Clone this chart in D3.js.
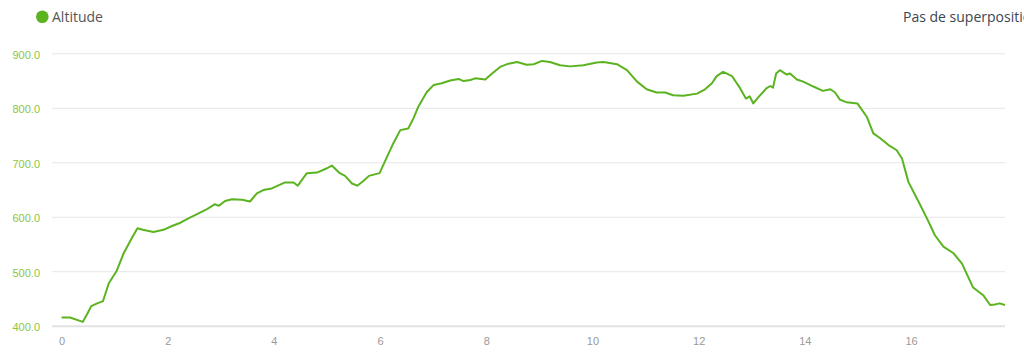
<!DOCTYPE html>
<html>
<head>
<meta charset="utf-8">
<script src="https://cdn.jsdelivr.net/npm/d3@7"></script>
<style>
  html, body { margin: 0; padding: 0; background: #fff; overflow: hidden; }
  svg { display: block; }
</style>
</head>
<body>
<svg id="chart" width="1024" height="352"></svg>
<script>
// Distance (km)
const distance = [0, 0.16, 0.40, 0.48, 0.56, 0.67, 0.78, 0.89, 1.04, 1.17, 1.33, 1.43, 1.53, 1.73, 1.92,
  2.08, 2.24, 2.39, 2.58, 2.74, 2.89, 2.96, 3.08, 3.21, 3.40, 3.55, 3.68, 3.80, 3.96, 4.21, 4.37,
  4.45, 4.62, 4.81, 5.00, 5.09, 5.24, 5.34, 5.47, 5.57, 5.69, 5.79, 5.99, 6.13, 6.25, 6.38, 6.53,
  6.63, 6.72, 6.88, 7.01, 7.16, 7.32, 7.48, 7.57, 7.70, 7.79, 7.98, 8.11, 8.26, 8.42, 8.58, 8.76,
  8.89, 9.05, 9.20, 9.39, 9.58, 9.83, 10.08, 10.21, 10.46, 10.65, 10.84, 11.02, 11.21, 11.37, 11.52,
  11.71, 11.97, 12.12, 12.25, 12.34, 12.46, 12.63, 12.78, 12.89, 12.96, 13.03, 13.13, 13.28, 13.35,
  13.40, 13.46, 13.53, 13.66, 13.72, 13.85, 13.97, 14.16, 14.34, 14.48, 14.57, 14.66, 14.79, 14.99,
  15.17, 15.29, 15.42, 15.57, 15.73, 15.83, 15.95, 16.14, 16.30, 16.45, 16.61, 16.80, 16.96, 17.17,
  17.36, 17.49, 17.58, 17.67, 17.77];
// Altitude (m)
const altitude = [415, 415, 407, 421, 436, 441, 445, 478, 501, 533, 562, 579, 576, 572, 576,
  583, 589, 597, 606, 614, 623, 620, 629, 632, 631, 628, 643, 649, 652, 663, 663,
  657, 680, 681, 689, 694, 680, 675, 661, 657, 666, 675, 680, 710, 735, 759, 762,
  781, 802, 829, 842, 845, 850, 853, 849, 851, 854, 852, 863, 875, 881, 884, 879,
  880, 886, 884, 878, 876, 878, 883, 884, 880, 869, 848, 834, 828, 828, 823,
  822, 826, 834, 845, 858, 866, 858, 836, 817, 821, 808, 820, 836, 840,
  837, 863, 869, 861, 863, 852, 848, 839, 831, 834, 828, 815, 810, 808,
  783, 753, 744, 732, 722, 707, 664, 628, 597, 566, 545, 533, 514, 470,
  456, 438, 439, 441, 438];
const yTicks = [400, 500, 600, 700, 800, 900];
const xTicks = [0, 2, 4, 6, 8, 10, 12, 14, 16];
const seriesName = "Altitude";
const rightLabel = "Pas de superposition";

const green = "#5bb320";
const svg = d3.select("#chart");

const x = d3.scaleLinear().domain([-0.18, 17.77]).range([52, 1005]);
const y = d3.scaleLinear().domain([400, 900]).range([325.7, 53.3]);

// grid lines
const grid = svg.append("g")
  .attr("transform", "translate(0,0)")
  .call(d3.axisLeft(y).tickValues(yTicks).tickSize(-(1005 - 52)).tickFormat(""))
  .attr("transform", "translate(52,0)");
grid.select(".domain").remove();
grid.selectAll("line").attr("stroke", "#e6e6e6").attr("stroke-width", 1);

// y labels
const yAxis = svg.append("g")
  .attr("transform", "translate(40,0)")
  .call(d3.axisLeft(y).tickValues(yTicks).tickSize(0).tickPadding(0).tickFormat(d3.format(".1f")));
yAxis.select(".domain").remove();
yAxis.selectAll("text")
  .attr("fill", "#8cc63f")
  .attr("font-family", "'Liberation Sans', Arial, sans-serif")
  .attr("font-size", "11px")
  .attr("dy", "0.45em");

// x axis baseline
svg.append("line")
  .attr("x1", 52).attr("x2", 1005)
  .attr("y1", y(400) + 0.5).attr("y2", y(400) + 0.5)
  .attr("stroke", "#e3e3e3").attr("stroke-width", 2);

// x labels
const xAxis = svg.append("g")
  .attr("transform", `translate(0,${y(400)})`)
  .call(d3.axisBottom(x).tickValues(xTicks).tickSize(0).tickPadding(12).tickFormat(d3.format("d")));
xAxis.select(".domain").remove();
xAxis.selectAll("text")
  .attr("fill", "#999")
  .attr("font-family", "'Liberation Sans', Arial, sans-serif")
  .attr("font-size", "11px");

// line
const data = distance.map((d, i) => ({ d, a: altitude[i] }));
svg.append("path")
  .datum(data)
  .attr("fill", "none")
  .attr("stroke", green)
  .attr("stroke-width", 2)
  .attr("stroke-linejoin", "round")
  .attr("d", d3.line().x(p => x(p.d)).y(p => y(p.a)));

// legend
svg.append("circle").attr("cx", 42.3).attr("cy", 16.7).attr("r", 6.3).attr("fill", green);
svg.append("text")
  .attr("x", 52).attr("y", 22)
  .attr("font-family", "'Open Sans', sans-serif")
  .attr("font-size", "14px")
  .attr("fill", "#555")
  .text(seriesName);
svg.append("text")
  .attr("x", 903).attr("y", 22)
  .attr("font-family", "'Open Sans', sans-serif")
  .attr("font-size", "14px")
  .attr("fill", "#3a4652")
  .text(rightLabel);
</script>
</body>
</html>
